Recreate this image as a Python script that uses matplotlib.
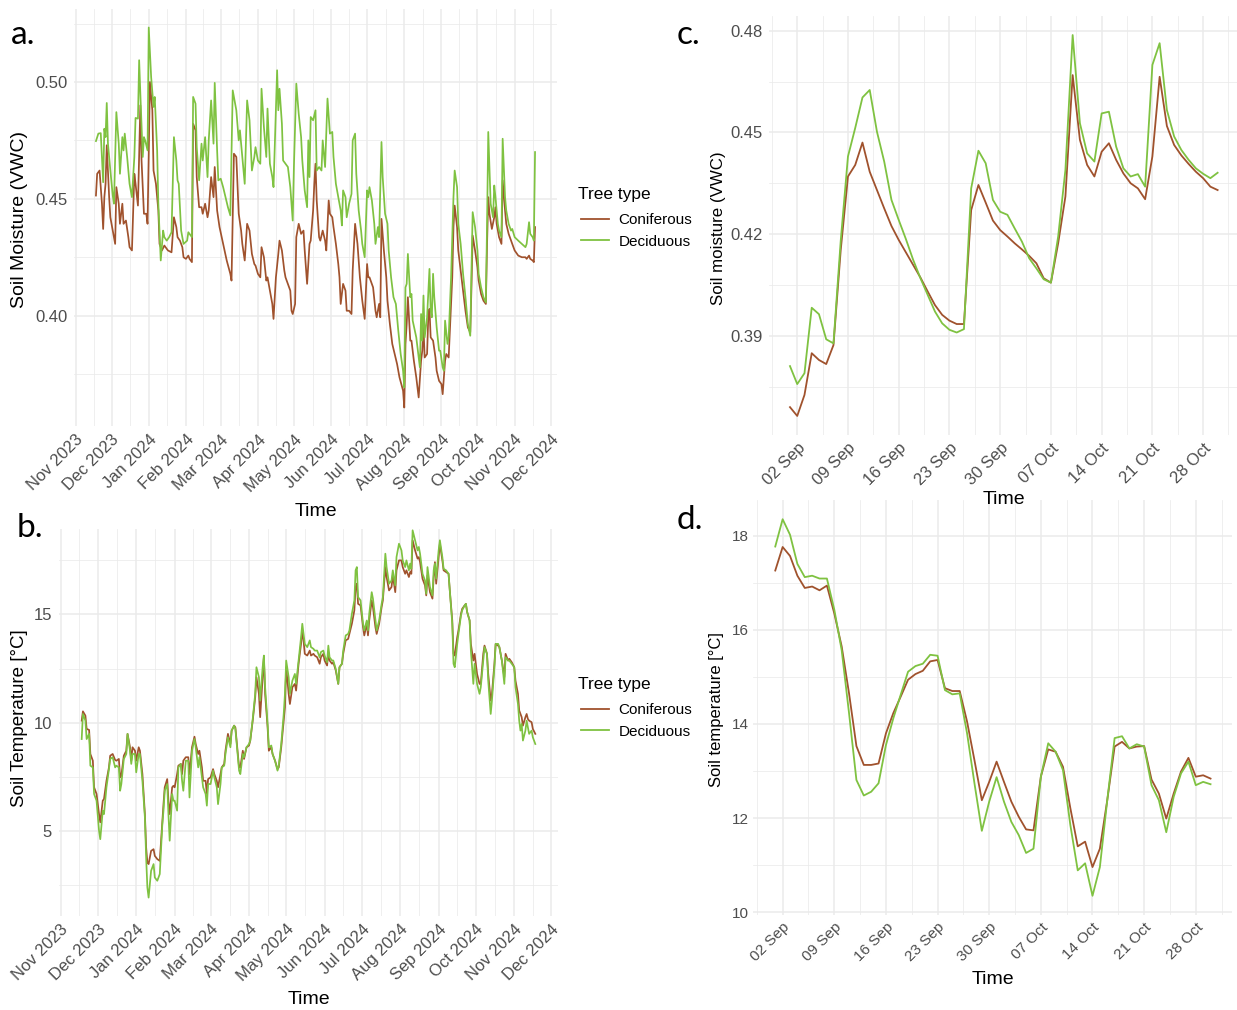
import numpy as np
import matplotlib
matplotlib.use("Agg")
import matplotlib.pyplot as plt
import matplotlib.dates as mdates

plt.rcParams['font.family'] = ['Liberation Sans', 'DejaVu Sans']

# ------------------------------------------------------------------ data
series_names = ['Coniferous', 'Deciduous']
series_colors = ['#A0522D', '#7FC241']
legend_title = 'Tree type'

# full year (daily sensor means), day offsets from the first record
year_start = np.datetime64('2023-11-18')

moist_con_days = [
    0, 1, 3, 5, 6, 7, 8, 9, 11, 12, 14, 16, 17, 19, 20, 22, 23, 25, 27, 28,
    30, 32, 33, 35, 37, 38, 40, 42, 43, 45, 47, 48, 50, 52, 53, 55, 57, 58, 60, 63,
    65, 67, 68, 70, 72, 73, 75, 77, 78, 80, 81, 83, 84, 86, 88, 89, 91, 93, 94, 96,
    98, 99, 101, 103, 106, 109, 112, 113, 115, 117, 119, 121, 122, 124, 126, 128, 130, 132, 133, 135,
    137, 138, 140, 142, 143, 145, 147, 148, 150, 152, 153, 155, 157, 158, 160, 162, 163, 164, 166, 167,
    169, 171, 173, 174, 176, 178, 179, 181, 182, 183, 184, 186, 187, 189, 191, 192, 194, 195, 197, 198,
    200, 202, 203, 204, 206, 208, 209, 211, 213, 214, 216, 218, 220, 222, 224, 226, 227, 228, 231, 233,
    234, 236, 237, 238, 240, 242, 243, 245, 247, 249, 251, 253, 256, 257, 258, 259, 260, 262, 263, 265,
    267, 269, 271, 272, 273, 274, 276, 277, 278, 279, 281, 283, 284, 286, 288, 289, 291, 292, 294, 295,
    297, 298, 299, 301, 302, 304, 306, 308, 310, 312, 313, 314, 316, 318, 319, 321, 323, 325, 326, 327,
    328, 330, 332, 333, 334, 336, 338, 339, 341, 342, 344, 346, 347, 349, 352, 355, 358, 359, 361, 362,
    364, 365, 366]
moist_con = [
    .4514, .4607, .4621, .4479, .4371, .4507, .4564, .4729, .4507, .4421,
    .4364, .4307, .4550, .4479, .4393, .4479, .4393, .4407, .4336, .4293,
    .4279, .4607, .4564, .4471, .4900, .4664, .4436, .4436, .4393, .5000,
    .4879, .4621, .4564, .4450, .4307, .4279, .4300, .4293, .4279, .4271,
    .4421, .4379, .4336, .4321, .4293, .4250, .4243, .4257, .4243, .4229,
    .4821, .4793, .4593, .4464, .4464, .4436, .4479, .4421, .4450, .4593,
    .4507, .4636, .4450, .4379, .4307, .4236, .4179, .4150, .4693, .4679,
    .4436, .4364, .4307, .4236, .4393, .4364, .4264, .4221, .4214, .4179,
    .4164, .4293, .4250, .4150, .4164, .4107, .4050, .3986, .4164, .4264,
    .4321, .4279, .4193, .4164, .4136, .4107, .4021, .4007, .4050, .4336,
    .4393, .4350, .4364, .4279, .4136, .4307, .4321, .4450, .4564, .4650,
    .4493, .4336, .4321, .4364, .4321, .4279, .4493, .4436, .4421, .4379,
    .4307, .4221, .4164, .4050, .4136, .4107, .4021, .4021, .4007, .4193,
    .4393, .4307, .4164, .4064, .3986, .4221, .4164, .4164, .4121, .4021,
    .3993, .4050, .3993, .4414, .4279, .4164, .4064, .3964, .3879, .3836,
    .3793, .3736, .3679, .3607, .3879, .3964, .4079, .3893, .3893, .3807,
    .3736, .3650, .3807, .3850, .3950, .3821, .3836, .3993, .4029, .3907,
    .3893, .3821, .3764, .3721, .3707, .3664, .3807, .3836, .3821, .3936,
    .4164, .4379, .4471, .4379, .4279, .4193, .4107, .4021, .3950, .3929,
    .4121, .4343, .4279, .4207, .4150, .4093, .4064, .4050, .4307, .4507,
    .4436, .4371, .4421, .4464, .4393, .4336, .4307, .4579, .4450, .4393,
    .4350, .4321, .4307, .4279, .4257, .4250, .4250, .4243, .4257, .4243,
    .4236, .4229, .4379]

moist_dec_days = [
    0, 2, 4, 6, 7, 8, 9, 10, 12, 14, 15, 17, 19, 20, 22, 23, 24, 26, 28, 30,
    32, 33, 35, 36, 37, 39, 40, 41, 43, 44, 46, 48, 49, 51, 52, 54, 56, 57, 59, 61,
    63, 65, 67, 68, 69, 71, 73, 76, 77, 78, 80, 81, 83, 84, 86, 88, 89, 91, 93, 94,
    96, 98, 99, 101, 102, 104, 106, 108, 110, 112, 114, 117, 119, 120, 122, 124, 126, 128, 130, 132,
    133, 135, 137, 138, 140, 142, 143, 145, 147, 148, 151, 152, 153, 155, 156, 158, 160, 162, 164, 165,
    167, 169, 171, 172, 174, 176, 177, 178, 179, 181, 183, 184, 186, 188, 189, 191, 193, 195, 197, 198,
    200, 202, 204, 205, 206, 208, 209, 211, 213, 214, 216, 217, 219, 221, 222, 224, 226, 227, 228, 230,
    232, 233, 235, 236, 238, 239, 241, 243, 244, 246, 248, 250, 252, 254, 256, 257, 258, 259, 260, 262,
    263, 264, 267, 269, 270, 271, 272, 273, 274, 276, 278, 279, 280, 281, 282, 284, 286, 287, 289, 290,
    291, 293, 294, 296, 298, 299, 301, 302, 304, 306, 308, 310, 312, 313, 314, 316, 318, 319, 321, 323,
    325, 326, 327, 329, 331, 332, 333, 335, 336, 338, 339, 341, 342, 344, 346, 347, 349, 352, 355, 358,
    359, 361, 362, 364, 365, 366]
moist_dec = [
    .4747, .4779, .4781, .4571, .4800, .4764, .4910, .4736, .4621, .4514,
    .4479, .4871, .4736, .4607, .4764, .4707, .4779, .4679, .4564, .4507,
    .4679, .4846, .4843, .5093, .4950, .4679, .4764, .4750, .4707, .5233,
    .5021, .4893, .4936, .4707, .4479, .4236, .4364, .4336, .4321, .4336,
    .4357, .4764, .4664, .4579, .4564, .4364, .4307, .4321, .4357, .4350,
    .4336, .4936, .4907, .4721, .4579, .4736, .4664, .4764, .4593, .4750,
    .4921, .4736, .4996, .4707, .4579, .4586, .4550, .4507, .4464, .4429,
    .4964, .4879, .4750, .4793, .4679, .4564, .4921, .4836, .4621, .4679,
    .4721, .4664, .4650, .4971, .4807, .4679, .4886, .4650, .4593, .4550,
    .5050, .4879, .4971, .4821, .4664, .4650, .4636, .4550, .4407, .4636,
    .4993, .4864, .4764, .4664, .4536, .4464, .4750, .4593, .4850, .4836,
    .4879, .4621, .4636, .4621, .4750, .4636, .4929, .4779, .4786, .4679,
    .4564, .4507, .4450, .4386, .4536, .4507, .4421, .4479, .4521, .4750,
    .4779, .4607, .4450, .4364, .4307, .4250, .4536, .4507, .4550, .4493,
    .4393, .4307, .4379, .4336, .4743, .4593, .4436, .4393, .4279, .4164,
    .4079, .4050, .3936, .3836, .3764, .3693, .4121, .4136, .4264, .4079,
    .4093, .3979, .3907, .3821, .3779, .4007, .3893, .4086, .3907, .3993,
    .4200, .4021, .3993, .4179, .4079, .3950, .3850, .3850, .3779, .3764,
    .3979, .3879, .3907, .4164, .4507, .4621, .4550, .4393, .4307, .4179,
    .4079, .3964, .3914, .4193, .4443, .4379, .4279, .4179, .4121, .4079,
    .4057, .4393, .4786, .4479, .4421, .4557, .4507, .4393, .4364, .4336,
    .4757, .4507, .4450, .4393, .4364, .4371, .4336, .4321, .4307, .4293,
    .4307, .4400, .4350, .4336, .4321, .4700]

temp_days = [
    0, 1, 3, 4, 6, 7, 9, 10, 12, 14, 15, 17, 18, 20, 22, 23, 25, 27, 28, 30,
    31, 32, 34, 36, 37, 39, 40, 41, 43, 44, 46, 47, 49, 51, 52, 53, 54, 56, 58, 59,
    61, 63, 65, 66, 67, 69, 70, 71, 73, 74, 75, 77, 78, 80, 81, 82, 84, 86, 87, 89,
    91, 92, 94, 95, 97, 98, 100, 101, 102, 104, 106, 107, 109, 110, 112, 113, 115, 116, 118, 120,
    121, 123, 124, 127, 128, 130, 131, 133, 135, 136, 138, 140, 141, 143, 144, 146, 147, 148, 150, 151,
    153, 154, 156, 158, 159, 161, 163, 164, 165, 167, 168, 170, 172, 173, 175, 177, 178, 179, 180, 182,
    184, 185, 187, 188, 190, 192, 193, 195, 196, 198, 199, 200, 202, 203, 205, 207, 208, 210, 211, 213,
    215, 216, 218, 220, 221, 222, 223, 225, 227, 228, 230, 231, 232, 234, 235, 237, 238, 240, 242, 243,
    245, 246, 248, 250, 251, 253, 254, 256, 258, 259, 261, 262, 264, 265, 266, 267, 269, 271, 272, 273,
    275, 277, 278, 279, 281, 283, 284, 285, 286, 288, 289, 291, 292, 294, 296, 297, 299, 300, 301, 303,
    304, 306, 307, 309, 310, 311, 313, 314, 316, 317, 319, 321, 322, 324, 325, 327, 328, 330, 331, 333,
    334, 336, 337, 339, 341, 342, 344, 345, 347, 349, 350, 352, 353, 354, 355, 356, 358, 359, 360, 361,
    363, 364, 366]
temp_con = [
    10.09, 10.52, 10.32, 9.71, 9.66, 8.55, 8.24, 7.01, 6.70, 5.77,
    5.39, 6.39, 6.47, 7.31, 7.93, 8.47, 8.55, 8.27, 8.24, 8.32,
    7.47, 7.55, 8.47, 8.70, 9.48, 8.86, 8.24, 8.86, 8.70, 8.24,
    8.86, 8.70, 7.62, 5.77, 4.23, 3.53, 3.46, 4.07, 4.15, 3.84,
    3.69, 3.61, 5.39, 6.23, 7.01, 7.39, 6.39, 5.77, 7.01, 7.08,
    7.01, 7.62, 8.01, 8.09, 7.62, 8.24, 8.40, 8.40, 7.62, 8.86,
    9.35, 9.01, 8.55, 8.70, 7.93, 7.31, 7.31, 6.70, 7.39, 7.47,
    7.85, 7.62, 7.31, 7.01, 7.62, 7.93, 8.09, 8.70, 9.48, 9.01,
    9.63, 9.86, 9.78, 7.93, 7.93, 8.70, 8.32, 8.86, 8.94, 9.17,
    10.09, 11.17, 12.10, 11.33, 10.25, 12.10, 13.02, 11.33, 9.78, 8.70,
    8.86, 8.55, 8.24, 7.85, 7.93, 8.86, 10.09, 10.71, 12.56, 11.33,
    10.86, 11.64, 11.79, 11.48, 12.72, 13.64, 14.26, 13.80, 13.18, 13.10,
    13.33, 13.10, 13.18, 13.10, 13.02, 12.72, 13.02, 13.18, 12.87, 12.64,
    13.26, 12.87, 12.72, 12.79, 12.41, 11.79, 12.56, 12.72, 13.18, 13.80,
    13.87, 14.10, 14.57, 15.19, 16.27, 16.42, 15.49, 15.42, 14.41, 14.03,
    14.57, 14.03, 14.72, 15.65, 15.34, 14.41, 14.10, 14.57, 15.34, 15.65,
    17.19, 16.73, 16.11, 16.27, 16.81, 16.03, 17.04, 17.50, 17.50, 17.19,
    16.88, 17.04, 16.73, 16.96, 16.88, 18.43, 17.96, 17.58, 17.65, 17.42,
    16.65, 16.34, 15.88, 16.81, 16.03, 15.73, 16.73, 17.42, 16.42, 17.65,
    18.27, 17.50, 17.04, 16.96, 16.88, 16.11, 14.72, 13.18, 13.10, 13.95,
    14.26, 15.03, 15.26, 15.42, 15.49, 15.11, 14.72, 13.64, 12.87, 13.18,
    12.25, 11.79, 11.79, 13.18, 13.56, 13.18, 12.25, 11.02, 11.33, 12.72,
    13.64, 13.56, 13.49, 12.87, 12.10, 13.18, 12.87, 12.95, 12.79, 12.56,
    11.94, 11.33, 10.56, 10.40, 10.25, 9.86, 10.25, 10.40, 10.17, 10.09,
    10.02, 9.71, 9.48]
temp_dec = [
    9.24, 10.40, 10.09, 9.24, 9.48, 8.01, 7.93, 6.70, 6.39, 5.00,
    4.61, 5.93, 5.77, 7.01, 7.85, 8.32, 8.40, 7.93, 8.01, 7.93,
    6.85, 7.16, 8.32, 8.55, 9.48, 8.70, 8.09, 8.55, 8.55, 7.70,
    8.55, 8.55, 7.31, 5.62, 3.77, 2.38, 1.91, 3.15, 3.46, 2.84,
    2.69, 3.00, 5.23, 5.93, 6.85, 7.16, 5.77, 4.54, 6.70, 6.39,
    6.39, 5.93, 7.93, 8.09, 7.31, 6.85, 8.24, 8.24, 6.54, 8.70,
    9.24, 8.86, 7.93, 8.40, 7.47, 7.01, 6.70, 6.16, 7.16, 7.16,
    7.78, 7.47, 7.01, 6.23, 7.16, 7.93, 8.01, 8.55, 9.32, 8.86,
    9.63, 9.86, 9.71, 7.78, 7.62, 8.55, 8.40, 8.86, 9.01, 9.17,
    10.17, 11.33, 12.56, 12.10, 11.02, 12.56, 13.10, 11.64, 9.94, 8.86,
    8.94, 8.55, 8.24, 7.78, 8.01, 9.01, 10.40, 11.33, 12.87, 12.10,
    11.33, 11.94, 12.25, 11.79, 12.87, 13.95, 14.57, 14.10, 13.64, 13.49,
    13.80, 13.49, 13.41, 13.33, 13.33, 13.02, 13.26, 13.33, 13.10, 12.79,
    13.56, 13.02, 12.87, 12.87, 12.48, 11.79, 12.56, 12.72, 13.33, 14.03,
    14.10, 14.26, 15.03, 15.65, 17.04, 17.19, 15.80, 15.65, 14.57, 14.26,
    14.72, 14.26, 15.03, 16.03, 15.73, 14.72, 14.26, 14.72, 15.49, 15.80,
    17.81, 17.19, 16.42, 16.57, 17.04, 16.34, 17.65, 18.27, 17.96, 17.50,
    17.19, 17.50, 17.04, 17.35, 17.11, 18.89, 18.43, 17.96, 18.12, 17.81,
    16.88, 16.57, 15.96, 17.19, 16.27, 15.88, 17.04, 17.35, 16.65, 17.96,
    18.43, 17.65, 17.11, 17.04, 16.88, 16.11, 14.57, 12.72, 12.56, 13.64,
    14.10, 14.95, 15.19, 15.42, 15.49, 15.11, 14.72, 13.33, 11.79, 12.72,
    11.79, 11.33, 11.64, 12.87, 13.49, 13.18, 11.94, 10.40, 11.02, 12.56,
    13.64, 13.64, 13.49, 12.87, 11.79, 13.02, 12.87, 12.87, 12.72, 12.56,
    11.64, 10.86, 10.09, 9.63, 9.94, 9.17, 9.63, 10.09, 9.78, 9.48,
    9.63, 9.32, 9.01]

# autumn detail, one value per day from 1 Sep 2024
autumn_start = np.datetime64('2024-09-01')
autumn_moist_con = [
    0.3690, 0.3664, 0.3726, 0.3849, 0.3829, 0.3817, 0.3873, 0.4153, 0.4370, 0.4404,
    0.4470, 0.4384, 0.4330, 0.4276, 0.4224, 0.4183, 0.4146, 0.4109, 0.4072, 0.4031,
    0.3991, 0.3962, 0.3945, 0.3935, 0.3935, 0.4271, 0.4345, 0.4293, 0.4240, 0.4212,
    0.4193, 0.4173, 0.4155, 0.4136, 0.4114, 0.4070, 0.4057, 0.4173, 0.4311, 0.4669,
    0.4478, 0.4404, 0.4370, 0.4443, 0.4468, 0.4419, 0.4379, 0.4350, 0.4335, 0.4303,
    0.4429, 0.4664, 0.4519, 0.4463, 0.4432, 0.4407, 0.4384, 0.4365, 0.4340, 0.4330]
autumn_moist_dec = [
    0.3811, 0.3758, 0.3790, 0.3983, 0.3964, 0.3890, 0.3878, 0.4180, 0.4429, 0.4513,
    0.4603, 0.4625, 0.4502, 0.4414, 0.4301, 0.4242, 0.4185, 0.4124, 0.4070, 0.4021,
    0.3972, 0.3937, 0.3918, 0.3910, 0.3920, 0.4335, 0.4446, 0.4409, 0.4301, 0.4266,
    0.4257, 0.4217, 0.4178, 0.4129, 0.4099, 0.4067, 0.4057, 0.4193, 0.4389, 0.4787,
    0.4527, 0.4438, 0.4414, 0.4556, 0.4561, 0.4458, 0.4394, 0.4370, 0.4377, 0.4340,
    0.4699, 0.4763, 0.4566, 0.4488, 0.4448, 0.4419, 0.4394, 0.4378, 0.4365, 0.4381]
autumn_temp_con = [
    17.26, 17.76, 17.57, 17.15, 16.89, 16.92, 16.84, 16.94, 16.35, 15.65,
    14.65, 13.53, 13.13, 13.13, 13.16, 13.80, 14.23, 14.58, 14.94, 15.06,
    15.13, 15.33, 15.36, 14.76, 14.70, 14.70, 14.05, 13.23, 12.38, 12.77,
    13.20, 12.77, 12.35, 12.03, 11.76, 11.74, 12.88, 13.46, 13.41, 13.09,
    12.21, 11.40, 11.50, 10.96, 11.35, 12.38, 13.52, 13.62, 13.48, 13.52,
    13.53, 12.82, 12.52, 11.99, 12.52, 12.99, 13.28, 12.88, 12.91, 12.84]
autumn_temp_dec = [
    17.77, 18.35, 18.02, 17.40, 17.12, 17.15, 17.09, 17.09, 16.43, 15.57,
    14.23, 12.81, 12.48, 12.56, 12.74, 13.55, 14.12, 14.62, 15.11, 15.23,
    15.28, 15.47, 15.45, 14.72, 14.63, 14.65, 13.80, 12.74, 11.73, 12.35,
    12.87, 12.35, 11.92, 11.64, 11.26, 11.35, 12.88, 13.59, 13.41, 13.02,
    11.85, 10.89, 11.04, 10.35, 10.96, 12.38, 13.70, 13.74, 13.48, 13.57,
    13.52, 12.70, 12.38, 11.70, 12.45, 12.95, 13.20, 12.70, 12.77, 12.72]

# axis ticks and labels
month_ticks = ['2023-11-01', '2023-12-01', '2024-01-01', '2024-02-01', '2024-03-01',
               '2024-04-01', '2024-05-01', '2024-06-01', '2024-07-01', '2024-08-01',
               '2024-09-01', '2024-10-01', '2024-11-01', '2024-12-01']
month_labels = ['Nov 2023', 'Dec 2023', 'Jan 2024', 'Feb 2024', 'Mar 2024', 'Apr 2024',
                'May 2024', 'Jun 2024', 'Jul 2024', 'Aug 2024', 'Sep 2024', 'Oct 2024',
                'Nov 2024', 'Dec 2024']
week_ticks = ['2024-08-26', '2024-09-02', '2024-09-09', '2024-09-16', '2024-09-23',
              '2024-09-30', '2024-10-07', '2024-10-14', '2024-10-21', '2024-10-28',
              '2024-11-04']
week_labels = ['26 Aug', '02 Sep', '09 Sep', '16 Sep', '23 Sep', '30 Sep', '07 Oct',
               '14 Oct', '21 Oct', '28 Oct', '04 Nov']
moist_ticks = [0.40, 0.45, 0.50]
moist_tick_labels = ['0.40', '0.45', '0.50']
temp_ticks = [5, 10, 15]
temp_tick_labels = ['5', '10', '15']
autumn_moist_ticks = [0.39, 0.42, 0.45, 0.48]
autumn_moist_tick_labels = ['0.39', '0.42', '0.45', '0.48']
autumn_temp_ticks = [10, 12, 14, 16, 18]
autumn_temp_tick_labels = ['10', '12', '14', '16', '18']

# ------------------------------------------------------------------ figure
W, H = 1237, 1010
fig = plt.figure(figsize=(W / 100, H / 100), dpi=100)
fig.patch.set_facecolor('white')

GRID = '#EBEBEB'
TICK_COLOR = '#4D4D4D'


def panel(left, top, right, bottom):
    """Axes placed by its pixel box on the canvas."""
    return fig.add_axes([left / W, 1 - bottom / H, (right - left) / W, (bottom - top) / H])


def expand(lo, hi, frac=0.05):
    span = hi - lo
    return lo - frac * span, hi + frac * span


def midpoints(vals):
    v = np.asarray(vals, dtype=float)
    return (v[:-1] + v[1:]) / 2


def style(ax, yt, ytl, ylims, xt, xtl, xlims, tick_size, ypad, xpad):
    ax.set_facecolor('white')
    for s in ax.spines.values():
        s.set_visible(False)
    ystep = yt[1] - yt[0]
    yt_ext = [yt[0] - ystep] + list(yt) + [yt[-1] + ystep]
    ax.set_yticks(yt)
    ax.set_yticklabels(ytl)
    ax.set_yticks(midpoints(yt_ext), minor=True)
    ax.set_xticks(xt)
    ax.set_xticklabels(xtl, rotation=45, ha='right', va='top', rotation_mode='anchor')
    ax.set_xticks(midpoints(xt), minor=True)
    ax.set_xlim(*xlims)
    ax.set_ylim(*ylims)
    ax.grid(which='major', color=GRID, lw=1.1)
    ax.grid(which='minor', color=GRID, lw=0.55)
    ax.set_axisbelow(True)
    ax.tick_params(which='both', length=0)
    ax.tick_params(axis='y', labelsize=tick_size, labelcolor=TICK_COLOR, pad=ypad)
    ax.tick_params(axis='x', labelsize=tick_size, labelcolor=TICK_COLOR, pad=xpad)


def to_num(start, days):
    return mdates.date2num(start + np.asarray(days, dtype='timedelta64[D]'))


month_num = mdates.date2num(np.array(month_ticks, dtype='datetime64[D]'))
week_num = mdates.date2num(np.array(week_ticks, dtype='datetime64[D]'))

# ---- a. soil moisture, full year
ax_a = panel(74, 8.5, 557, 426.5)
xa_con = to_num(year_start, moist_con_days)
xa_dec = to_num(year_start, moist_dec_days)
ax_a.plot(xa_con, moist_con, color=series_colors[0], lw=1.25, label=series_names[0])
ax_a.plot(xa_dec, moist_dec, color=series_colors[1], lw=1.25, label=series_names[1])
xlim_year = expand(min(xa_con.min(), xa_dec.min()), max(xa_con.max(), xa_dec.max()))
style(ax_a, moist_ticks, moist_tick_labels,
      expand(min(min(moist_con), min(moist_dec)), max(max(moist_con), max(moist_dec))),
      month_num, month_labels, xlim_year, 12, 4.5, 4)

# ---- b. soil temperature, full year
ax_b = panel(59, 529, 558, 916)
xb = to_num(year_start, temp_days)
ax_b.plot(xb, temp_con, color=series_colors[0], lw=1.25, label=series_names[0])
ax_b.plot(xb, temp_dec, color=series_colors[1], lw=1.25, label=series_names[1])
style(ax_b, temp_ticks, temp_tick_labels, (1.06, 18.95),
      month_num, month_labels, expand(xb.min(), xb.max()), 12, 5, 4)

# ---- c. soil moisture, Sep-Oct
autumn_days = np.arange(len(autumn_moist_con))
xc = to_num(autumn_start, autumn_days)
ax_c = panel(768.6, 16, 1239, 435)
ax_c.plot(xc, autumn_moist_con, color=series_colors[0], lw=1.3)
ax_c.plot(xc, autumn_moist_dec, color=series_colors[1], lw=1.3)
style(ax_c, autumn_moist_ticks, autumn_moist_tick_labels,
      expand(min(min(autumn_moist_con), min(autumn_moist_dec)),
             max(max(autumn_moist_con), max(autumn_moist_dec))),
      week_num, week_labels, expand(xc.min(), xc.max()), 12, 4, 4)

# ---- d. soil temperature, Sep-Oct
ax_d = panel(753.5, 500.4, 1232.3, 914.6)
ax_d.plot(xc, autumn_temp_con, color=series_colors[0], lw=1.3)
ax_d.plot(xc, autumn_temp_dec, color=series_colors[1], lw=1.3)
style(ax_d, autumn_temp_ticks, autumn_temp_tick_labels,
      expand(min(min(autumn_temp_con), min(autumn_temp_dec)),
             max(max(autumn_temp_con), max(autumn_temp_dec))),
      week_num, week_labels, expand(xc.min(), xc.max()), 11, 3, 4)


# ---- axis titles, panel letters, legends
def ftext(x, y, s, **kw):
    fig.text(x / W, 1 - y / H, s, **kw)


ftext(20, 219, 'Soil Moisture (VWC)', rotation=90, ha='center', va='center', fontsize=14)
ftext(20, 718, 'Soil Temperature [°C]', rotation=90, ha='center', va='center', fontsize=13.5)
ftext(718, 228, 'Soil moisture (VWC)', rotation=90, ha='center', va='center', fontsize=12.2)
ftext(717, 710, 'Soil temperature [°C]', rotation=90, ha='center', va='center', fontsize=12)
ftext(316, 511, 'Time', ha='center', va='center', fontsize=14)
ftext(309, 1000, 'Time', ha='center', va='center', fontsize=14)
ftext(1004, 500, 'Time', ha='center', va='center', fontsize=14)
ftext(993, 980, 'Time', ha='center', va='center', fontsize=14)

letter_font = ['Lato', 'DejaVu Sans']
ftext(11, 44, 'a.', ha='left', va='baseline', fontsize=24, family=letter_font)
ftext(17, 537, 'b.', ha='left', va='baseline', fontsize=24, family=letter_font)
ftext(677, 44, 'c.', ha='left', va='baseline', fontsize=24, family=letter_font)
ftext(677, 529, 'd.', ha='left', va='baseline', fontsize=24, family=letter_font)

for ax, title_y in ((ax_a, 194), (ax_b, 684)):
    ftext(578, title_y, legend_title, ha='left', va='center', fontsize=12.5)
    leg = ax.legend(loc='upper left',
                    bbox_to_anchor=(581 / W, 1 - (title_y + 19) / H),
                    bbox_transform=fig.transFigure,
                    frameon=False, fontsize=11,
                    borderpad=0, borderaxespad=0, handlelength=1.8, handletextpad=0.65,
                    labelspacing=0.5)
    for line in leg.get_lines():
        line.set_linewidth(1.3)

fig.savefig('out.png', dpi=100, facecolor='white')
